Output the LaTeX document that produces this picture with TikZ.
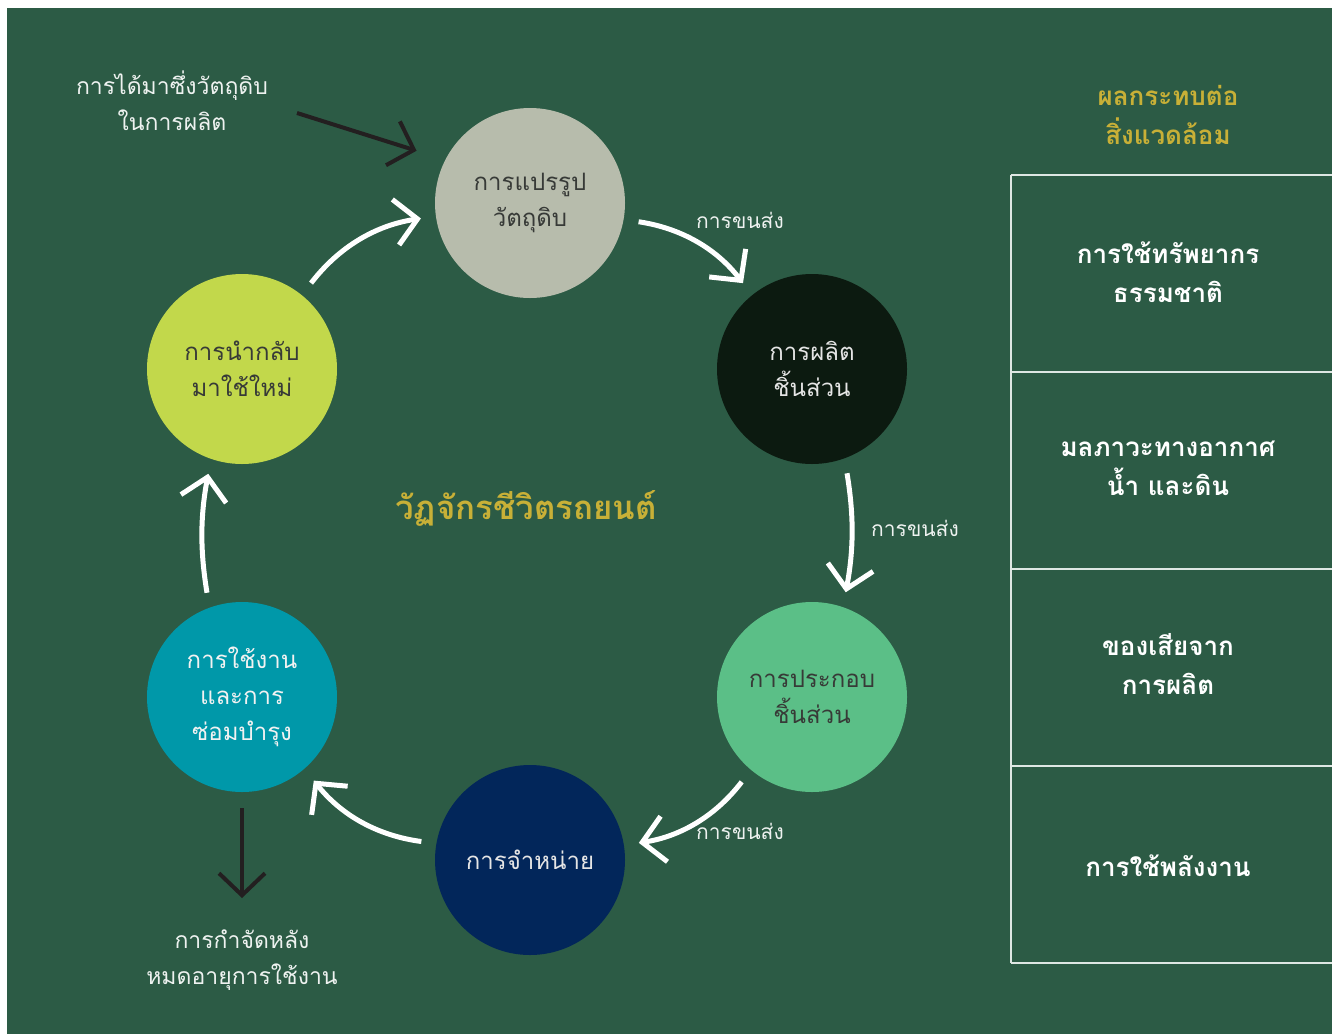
\documentclass[tikz,border=0pt]{standalone}
\usepackage{fontspec}
\setmainfont[Script=Thai]{Loma}
\usetikzlibrary{arrows.meta}
\definecolor{board}{RGB}{44,91,69}
\definecolor{gold}{RGB}{200,176,55}
\definecolor{rawgray}{RGB}{183,188,172}
\definecolor{partsdark}{RGB}{12,26,16}
\definecolor{assemblygreen}{RGB}{91,191,135}
\definecolor{salesnavy}{RGB}{2,38,90}
\definecolor{useteal}{RGB}{0,152,169}
\definecolor{recyclelime}{RGB}{194,216,75}
\definecolor{inkdark}{RGB}{55,58,55}
\definecolor{inkblack}{RGB}{35,31,32}
\begin{document}
\begin{tikzpicture}[x=1pt,y=-1pt,
  stage/.style={circle,minimum size=190pt,inner sep=0pt,align=center,font=\fontsize{24}{36}\selectfont},
  flow/.style={white,line width=5pt,-{Straight Barb[length=22pt,width=46pt]},shorten <=15pt,shorten >=15pt},
  feed/.style={inkblack,line width=4pt,-{Straight Barb[length=22pt,width=46pt]}},
  note/.style={text=white!92!board,align=center,font=\fontsize{23}{36}\selectfont},
  carry/.style={text=white!92!board,font=\fontsize{21}{24}\selectfont},
  impact/.style={text=white,align=center,font=\bfseries\fontsize{26}{39}\selectfont}]
\useasboundingbox (0,0) rectangle (1332,1034);
\fill[white] (0,0) rectangle (1332,1034);
\fill[board] (7,8) rectangle (1332,1034);

% impact table
\foreach \y in {175,372,569,766,963} \draw[white!85!board,line width=1.2pt] (1011,\y) -- (1332,\y);
\draw[white!85!board,line width=1.2pt] (1011,175) -- (1011,963);
\node[text=gold,align=center,font=\bfseries\fontsize{26}{39}\selectfont] (impacthead) at (1168,115) {ผลกระทบต่อ\\สิ่งแวดล้อม};
\node[impact] (resources) at (1168,272) {การใช้ทรัพยากร\\ธรรมชาติ};
\node[impact] (pollution) at (1168,468) {มลภาวะทางอากาศ\\น้ำ และดิน};
\node[impact] (waste) at (1168,664) {ของเสียจาก\\การผลิต};
\node[impact] (energy) at (1168,866) {การใช้พลังงาน};

% life cycle
\node[text=gold,font=\bfseries\fontsize{33}{36}\selectfont] (title) at (526,508) {วัฏจักรชีวิตรถยนต์};
\node[stage,fill=rawgray,text=inkdark] (process) at (530,203) {การแปรรูป\\วัตถุดิบ};
\node[stage,fill=partsdark,text=white!90!black] (parts) at (812,369) {การผลิต\\ชิ้นส่วน};
\node[stage,fill=assemblygreen,text=inkdark] (assembly) at (812,697) {การประกอบ\\ชิ้นส่วน};
\node[stage,fill=salesnavy,text=white!90!black] (sales) at (530,860) {การจำหน่าย};
\node[stage,fill=useteal,text=white!95!black] (use) at (242,697) {การใช้งาน\\และการ\\ซ่อมบำรุง};
\node[stage,fill=recyclelime,text=inkdark] (recycle) at (242,369) {การนำกลับ\\มาใช้ใหม่};

\draw[flow] (process.-10) to[bend left=22] (parts.129);
\draw[flow] (parts.-70) to[bend left=10] (assembly.71);
\draw[flow] (assembly.-130) to[bend left=22] (sales.9);
\draw[flow] (sales.170) to[bend left=22] (use.-49);
\draw[flow] (use.110) to[bend left=10] (recycle.-109);
\draw[flow] (recycle.51) to[bend left=22] (process.-172);
\node[carry] (carry1) at (740,220) {การขนส่ง};
\node[carry] (carry2) at (915,528) {การขนส่ง};
\node[carry] (carry3) at (740,831) {การขนส่ง};

% inputs and outputs
\node[note] (rawin) at (172,101) {การได้มาซึ่งวัตถุดิบ\\ในการผลิต};
\coordinate (rawstart) at (297,113);
\draw[feed,shorten >=30pt] (rawstart) -- (process.153);
\node[note] (disposal) at (242,960) {การกำจัดหลัง\\หมดอายุการใช้งาน};
\coordinate (disposalend) at (242,898);
\draw[feed,shorten <=16pt] (use.south) -- (disposalend);
\end{tikzpicture}
\end{document}
